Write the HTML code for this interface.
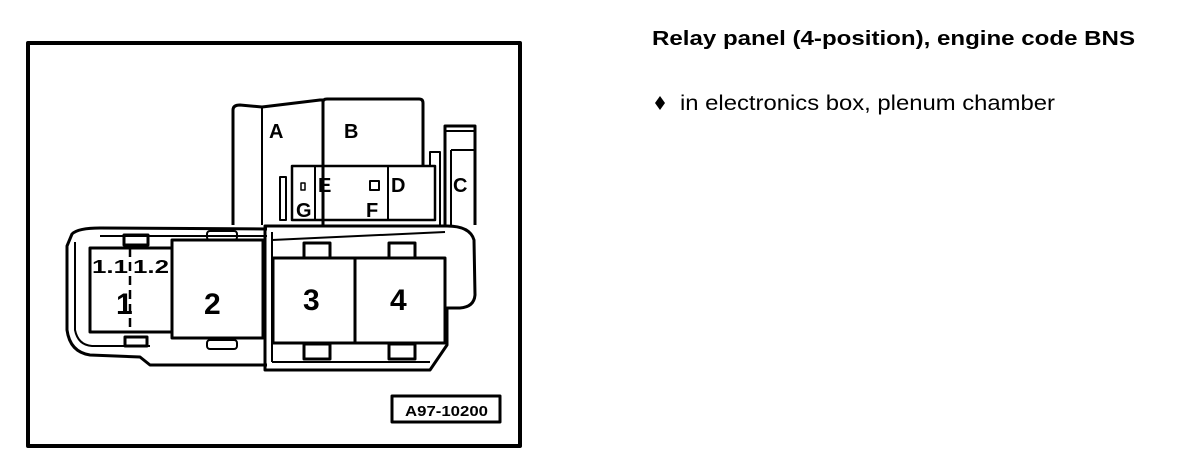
<!DOCTYPE html>
<html><head><meta charset="utf-8"><style>
html,body{margin:0;padding:0;background:#fff;}
svg{display:block;font-family:"Liberation Sans",Arial,sans-serif;}
</style></head><body>
<svg width="1184" height="456" viewBox="0 0 1184 456" xmlns="http://www.w3.org/2000/svg">
<rect width="1184" height="456" fill="#fff"/>
<text x="652" y="45" font-size="20" font-weight="bold" textLength="483" lengthAdjust="spacingAndGlyphs">Relay panel (4-position),  engine code BNS</text>
<path d="M660 96 L665 103 L660 110 L655 103 Z" fill="#000"/>
<text x="680" y="110" font-size="21" textLength="375" lengthAdjust="spacingAndGlyphs">in electronics box, plenum chamber</text>

<g fill="none" stroke="#000" stroke-width="3" stroke-linejoin="round">
<rect x="28" y="43" width="492" height="403" stroke-width="4"/>
<rect x="392" y="396" width="108" height="26" stroke-width="3"/>

<!-- A -->
<path d="M233 225 V110 Q233 105 240 105 L262 107 L320 100 L323 100 V225"/>
<line x1="262" y1="107" x2="262" y2="225" stroke-width="2"/>
<!-- B -->
<path d="M323 165 V102 Q323 99 327 99 L419 99 Q423 99 423 103 V165"/>
<!-- E/D panel -->
<rect x="292" y="166" width="143" height="54" stroke-width="2.5"/>
<line x1="315" y1="166" x2="315" y2="220" stroke-width="2"/>
<line x1="388" y1="166" x2="388" y2="220" stroke-width="2"/>
<rect x="280" y="177" width="6" height="43" stroke-width="2"/>
<rect x="370" y="181" width="9" height="9" stroke-width="2"/>
<rect x="301" y="183" width="4" height="7" stroke-width="1.5"/>
<!-- C -->
<path d="M445 225 V126 H475 V225"/>
<line x1="445" y1="131" x2="475" y2="131" stroke-width="2"/>
<line x1="451" y1="150" x2="451" y2="225" stroke-width="2"/>
<line x1="451" y1="150" x2="475" y2="150" stroke-width="2"/>
<path d="M430 165 V152 H440 V225" stroke-width="2"/>
<!-- left housing -->
<path d="M267 229 L100 228 Q78 228 72 234 L67 246 V330 Q70 352 90 355 L140 357 L150 365 H267"/>
<path d="M75 242 V330 Q78 345 92 346 H150" stroke-width="2"/>
<line x1="100" y1="236" x2="267" y2="236" stroke-width="2"/>
<rect x="124" y="235" width="24" height="10" stroke-width="3"/>
<rect x="125" y="337" width="22" height="9" stroke-width="3"/>
<rect x="207" y="231" width="30" height="9" rx="3" stroke-width="2"/>
<rect x="207" y="340" width="30" height="9" rx="3" stroke-width="2"/>
<!-- box 1 -->
<rect x="90" y="248" width="82" height="84"/>
<line x1="130" y1="248" x2="130" y2="332" stroke-width="2.5" stroke-dasharray="9,5"/>
<!-- box 2 -->
<rect x="172" y="240" width="91" height="98"/>
<!-- right housing -->
<path d="M265 226 H447 Q470 226 474 240 L475 295 Q474 307 460 308 H447 V345 L430 370 H265 Z"/>
<path d="M272 240 L445 232" stroke-width="2"/>
<line x1="272" y1="232" x2="272" y2="362" stroke-width="2"/>
<line x1="272" y1="362" x2="430" y2="362" stroke-width="2"/>
<rect x="304" y="243" width="26" height="15" stroke-width="3"/>
<rect x="389" y="243" width="26" height="15" stroke-width="3"/>
<rect x="304" y="344" width="26" height="15" stroke-width="3"/>
<rect x="389" y="344" width="26" height="15" stroke-width="3"/>
<!-- boxes 3,4 -->
<rect x="273" y="258" width="82" height="85"/>
<rect x="355" y="258" width="90" height="85"/>
</g>
<g font-weight="bold" fill="#000">
<text x="269" y="138" font-size="20">A</text>
<text x="344" y="138" font-size="20">B</text>
<text x="318" y="192" font-size="20">E</text>
<text x="391" y="192" font-size="20">D</text>
<text x="453" y="192" font-size="20">C</text>
<text x="296" y="217" font-size="20">G</text>
<text x="366" y="217" font-size="20">F</text>
<text x="92" y="273" font-size="18" textLength="36" lengthAdjust="spacingAndGlyphs">1.1</text>
<text x="133" y="273" font-size="18" textLength="36" lengthAdjust="spacingAndGlyphs">1.2</text>
<text x="116" y="314" font-size="30">1</text>
<text x="204" y="314" font-size="30">2</text>
<text x="303" y="310" font-size="30">3</text>
<text x="390" y="310" font-size="30">4</text>
<text x="405" y="416" font-size="15" textLength="83" lengthAdjust="spacingAndGlyphs">A97-10200</text>
</g>
</svg>
</body></html>
